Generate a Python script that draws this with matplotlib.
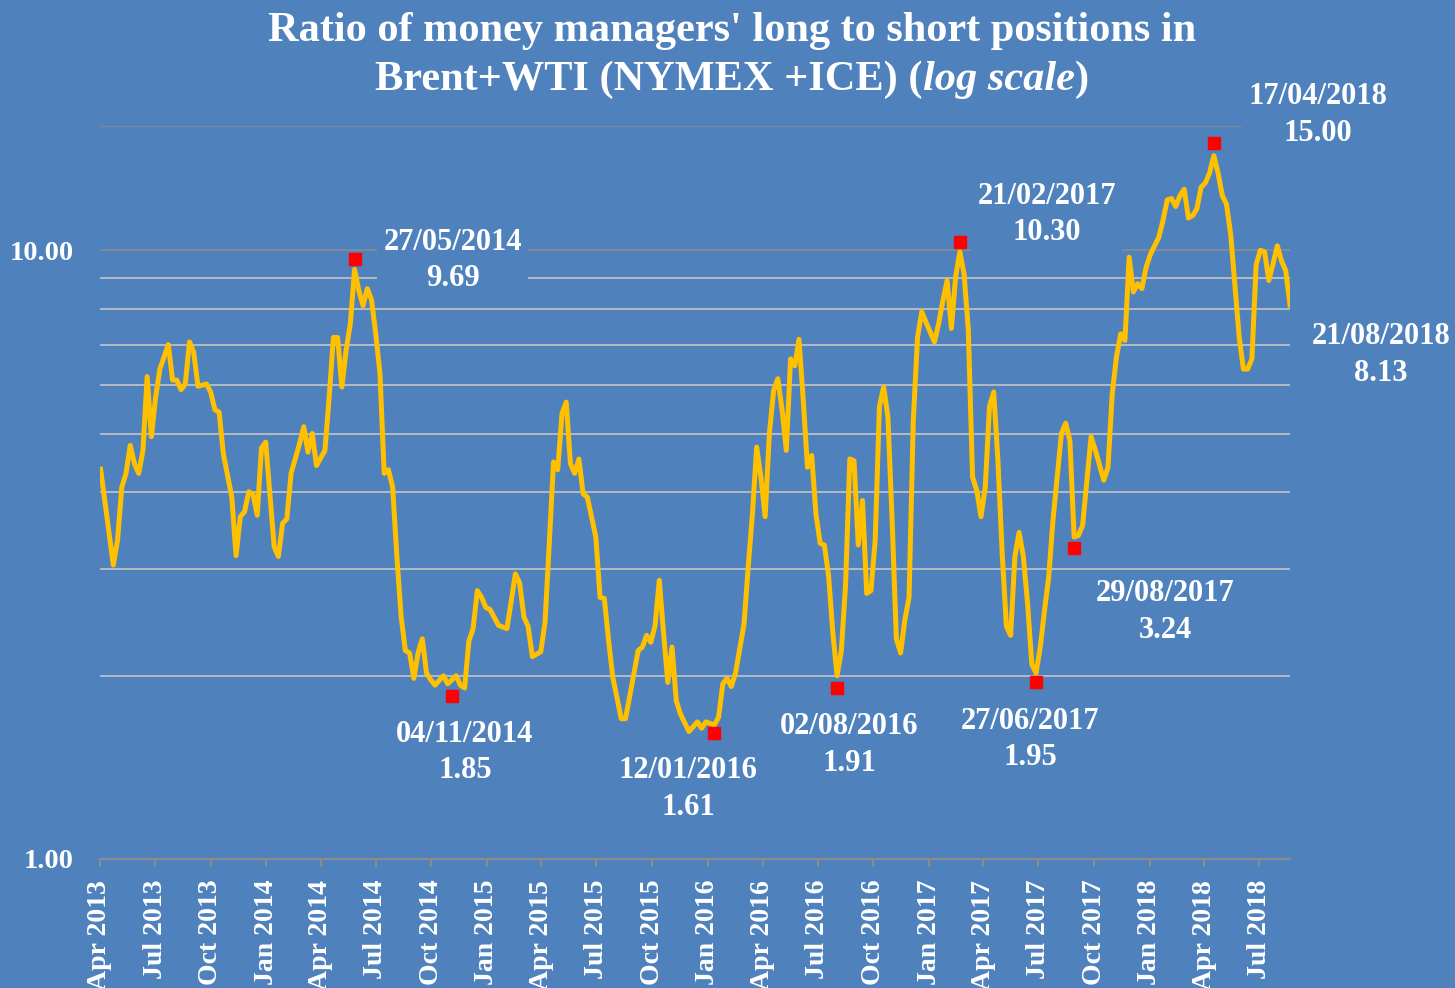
import numpy as np
import pandas as pd
import matplotlib
matplotlib.use("Agg")
import matplotlib.pyplot as plt
import matplotlib.dates as mdates
from matplotlib.offsetbox import TextArea, HPacker, AnnotationBbox

# weekly COT report, weeks counted from Tuesday 02/04/2013
start = pd.Timestamp("2013-04-02")
week = [0, 3, 4, 5, 6, 7, 8, 9, 10, 11, 12, 13, 14, 15, 16, 17, 18, 19, 20, 21,
        22, 23, 25, 26, 27, 28, 29, 31, 32, 33, 34, 35, 36, 37, 38, 39, 40, 41, 42, 43,
        44, 45, 47, 48, 49, 50, 51, 53, 54, 55, 56, 57, 58, 59, 60, 61, 62, 63, 64, 65,
        66, 67, 68, 69, 70, 71, 72, 73, 74, 75, 76, 77, 78, 79, 81, 82, 84, 85, 86, 87,
        88, 89, 90, 91, 92, 94, 96, 98, 99, 100, 101, 102, 104, 105, 106, 107, 108, 109, 110, 111,
        112, 113, 114, 115, 117, 118, 119, 120, 121, 123, 124, 125, 127, 128, 129, 130, 131, 132, 133, 134,
        135, 136, 137, 139, 141, 142, 143, 145, 146, 147, 148, 149, 150, 152, 153, 154, 155, 156, 157, 158,
        159, 160, 161, 162, 163, 164, 165, 166, 167, 168, 169, 170, 171, 172, 173, 174, 175, 176, 177, 178,
        179, 180, 181, 182, 183, 184, 185, 186, 187, 188, 189, 190, 191, 192, 193, 194, 195, 197, 198, 199,
        200, 201, 202, 203, 204, 205, 206, 207, 208, 209, 210, 211, 212, 213, 214, 215, 216, 217, 218, 219,
        220, 221, 222, 223, 224, 225, 227, 228, 229, 230, 231, 232, 234, 235, 237, 238, 239, 240, 241, 242,
        243, 244, 245, 246, 247, 248, 249, 250, 251, 252, 253, 254, 255, 256, 257, 258, 259, 260, 261, 262,
        263, 264, 265, 266, 267, 268, 269, 270, 271, 272, 273, 274, 275, 276, 277, 278, 279, 280, 281]
ratio = [4.37, 3.04, 3.34, 4.08, 4.30, 4.78, 4.46, 4.30, 4.69, 6.20, 4.94, 5.74, 6.38, 6.68, 7.00, 6.12, 6.12, 5.90, 6.03, 7.07,
         6.80, 5.98, 6.03, 5.85, 5.47, 5.42, 4.63, 3.93, 3.15, 3.65, 3.72, 4.01, 3.98, 3.67, 4.73, 4.84, 3.98, 3.26, 3.14, 3.56,
         3.62, 4.30, 4.81, 5.13, 4.66, 5.00, 4.43, 4.69, 5.74, 7.19, 7.19, 5.96, 6.85, 7.58, 9.30, 8.59, 8.11, 8.65, 8.30, 7.29,
         6.27, 4.30, 4.36, 4.08, 3.14, 2.50, 2.20, 2.18, 1.98, 2.18, 2.30, 2.02, 1.97, 1.93, 2.00, 1.94, 2.00, 1.93, 1.91, 2.28,
         2.39, 2.76, 2.69, 2.59, 2.57, 2.42, 2.39, 2.94, 2.84, 2.50, 2.41, 2.15, 2.19, 2.45, 3.30, 4.49, 4.36, 5.39, 5.63, 4.46,
         4.30, 4.54, 3.98, 3.93, 3.38, 2.69, 2.68, 2.29, 1.99, 1.70, 1.70, 1.85, 2.20, 2.23, 2.33, 2.27, 2.42, 2.87, 2.35, 1.95,
         2.23, 1.82, 1.73, 1.62, 1.68, 1.64, 1.68, 1.66, 1.71, 1.94, 1.98, 1.92, 2.02, 2.43, 3.02, 3.69, 4.75, 4.24, 3.65, 5.00,
         5.88, 6.15, 5.47, 4.69, 6.63, 6.46, 7.14, 5.68, 4.40, 4.60, 3.69, 3.30, 3.28, 2.91, 2.35, 2.00, 2.20, 2.82, 4.54, 4.51,
         3.28, 3.88, 2.73, 2.76, 3.34, 5.54, 5.96, 5.33, 3.60, 2.30, 2.18, 2.47, 2.69, 5.25, 7.19, 7.93, 7.62, 7.07, 7.58, 8.27,
         8.92, 7.44, 9.04, 9.94, 9.14, 7.40, 4.24, 4.03, 3.65, 4.08, 5.54, 5.85, 4.51, 3.18, 2.41, 2.33, 3.14, 3.44, 3.14, 2.63,
         2.09, 2.02, 2.23, 2.56, 2.91, 3.60, 5.00, 5.20, 4.87, 3.38, 3.40, 3.53, 4.94, 4.70, 4.19, 4.40, 5.81, 6.68, 7.29, 7.11,
         9.74, 8.54, 8.81, 8.65, 9.37, 9.84, 10.17, 10.50, 11.20, 12.10, 12.16, 11.80, 12.30, 12.60, 11.30, 11.40, 11.70, 12.70, 12.90, 13.40,
         14.30, 13.40, 12.30, 11.90, 10.60, 8.72, 7.19, 6.38, 6.38, 6.63, 9.47, 10.00, 9.94, 8.92, 9.50, 10.17, 9.60, 9.25, 8.13]

# highlighted turning points
peak_dates = ["2014-05-27", "2014-11-04", "2016-01-12", "2016-08-02",
              "2017-02-21", "2017-06-27", "2017-08-29", "2018-04-17"]
peak_values = [9.69, 1.85, 1.61, 1.91, 10.30, 1.95, 3.24, 15.00]
last_date = "2018-08-21"
last_value = 8.13

# label offsets in pixels from the point (x right, y up)
peak_offsets = [(98, -2), (13, -56), (-26, -56), (12, -57),
                (87, 28), (-6, -57), (91, -64), (104, 28)]
last_offset = (91, -50)

BG = "#4F81BD"
LINE = "#FFC000"
FONT = ["Liberation Serif", "DejaVu Serif"]

dates = start + pd.to_timedelta(np.array(week) * 7, unit="D")

fig = plt.figure(figsize=(14.55, 9.88), dpi=100, facecolor=BG)
ax = fig.add_axes([100 / 1455, 1 - 859 / 988, 1190 / 1455, 733 / 988])
ax.set_facecolor(BG)

ax.plot(dates, ratio, color=LINE, lw=3.6, solid_joinstyle="round", zorder=2)
ax.plot(pd.to_datetime(peak_dates), peak_values, ls="none", marker="s",
        ms=8.5, color="#FF0000", zorder=4)

ax.set_yscale("log")
ax.set_ylim(1, 16)
ax.set_xlim(pd.Timestamp("2013-04-01"), pd.Timestamp(last_date))
ax.yaxis.set_major_locator(matplotlib.ticker.FixedLocator([1, 10]))
ax.yaxis.set_minor_locator(matplotlib.ticker.FixedLocator([2, 3, 4, 5, 6, 7, 8, 9]))
ax.yaxis.set_major_formatter(matplotlib.ticker.FuncFormatter(lambda v, p: f"{v:.2f}"))
ax.yaxis.set_minor_formatter(matplotlib.ticker.NullFormatter())
ax.grid(which="major", axis="y", color="#8C8C8C", lw=1.2)
ax.grid(which="minor", axis="y", color="#C4C4C4", lw=1.2)
ax.axhline(16, color="#8C8C8C", lw=1.2, zorder=1)
ax.tick_params(axis="y", which="both", length=0, pad=19, labelcolor="white", labelsize=20.5)

quarters = pd.date_range("2013-04-01", "2018-07-01", freq="QS-JAN")
ax.set_xticks(quarters)
ax.xaxis.set_major_formatter(mdates.DateFormatter("%b %Y"))
ax.tick_params(axis="x", length=6, width=1.5, color="#8C8C8C", direction="out",
               pad=9, labelcolor="white", labelsize=20, labelrotation=90)
for lab in ax.get_xticklabels() + ax.get_yticklabels():
    lab.set_family(FONT)
    lab.set_fontweight("bold")

for s in ["top", "right", "left"]:
    ax.spines[s].set_visible(False)
ax.spines["bottom"].set_color("#8C8C8C")
ax.spines["bottom"].set_linewidth(1.5)

label_style = dict(color="white", fontsize=22, fontweight="bold", family=FONT,
                   ha="center", va="center", multialignment="center", linespacing=1.35,
                   textcoords="offset pixels", annotation_clip=False, zorder=3,
                   bbox=dict(boxstyle="square,pad=0.2", fc=BG, ec="none"))
for d, v, off in zip(peak_dates, peak_values, peak_offsets):
    t = pd.Timestamp(d)
    ax.annotate(f"{t:%d/%m/%Y}\n{v:.2f}", (t, v), xytext=off, **label_style)
t = pd.Timestamp(last_date)
ax.annotate(f"{t:%d/%m/%Y}\n{last_value:.2f}", (t, last_value), xytext=last_offset, **label_style)

# title, second line mixes upright and italic
tprops = dict(color="white", fontsize=30.5, fontweight="bold", family=FONT)
fig.text(0.503, 1 - 31 / 988, "Ratio of money managers' long to short positions in",
         ha="center", va="center", **tprops)
parts = [TextArea("Brent+WTI (NYMEX +ICE) (", textprops=tprops),
         TextArea("log scale", textprops=dict(tprops, style="italic")),
         TextArea(")", textprops=tprops)]
box = HPacker(children=parts, align="baseline", pad=0, sep=0)
ab = AnnotationBbox(box, (0.503, 1 - 80 / 988), xycoords="figure fraction",
                    frameon=False, box_alignment=(0.5, 0.5))
fig.add_artist(ab)

fig.savefig("out.png", dpi=100, facecolor=BG)
